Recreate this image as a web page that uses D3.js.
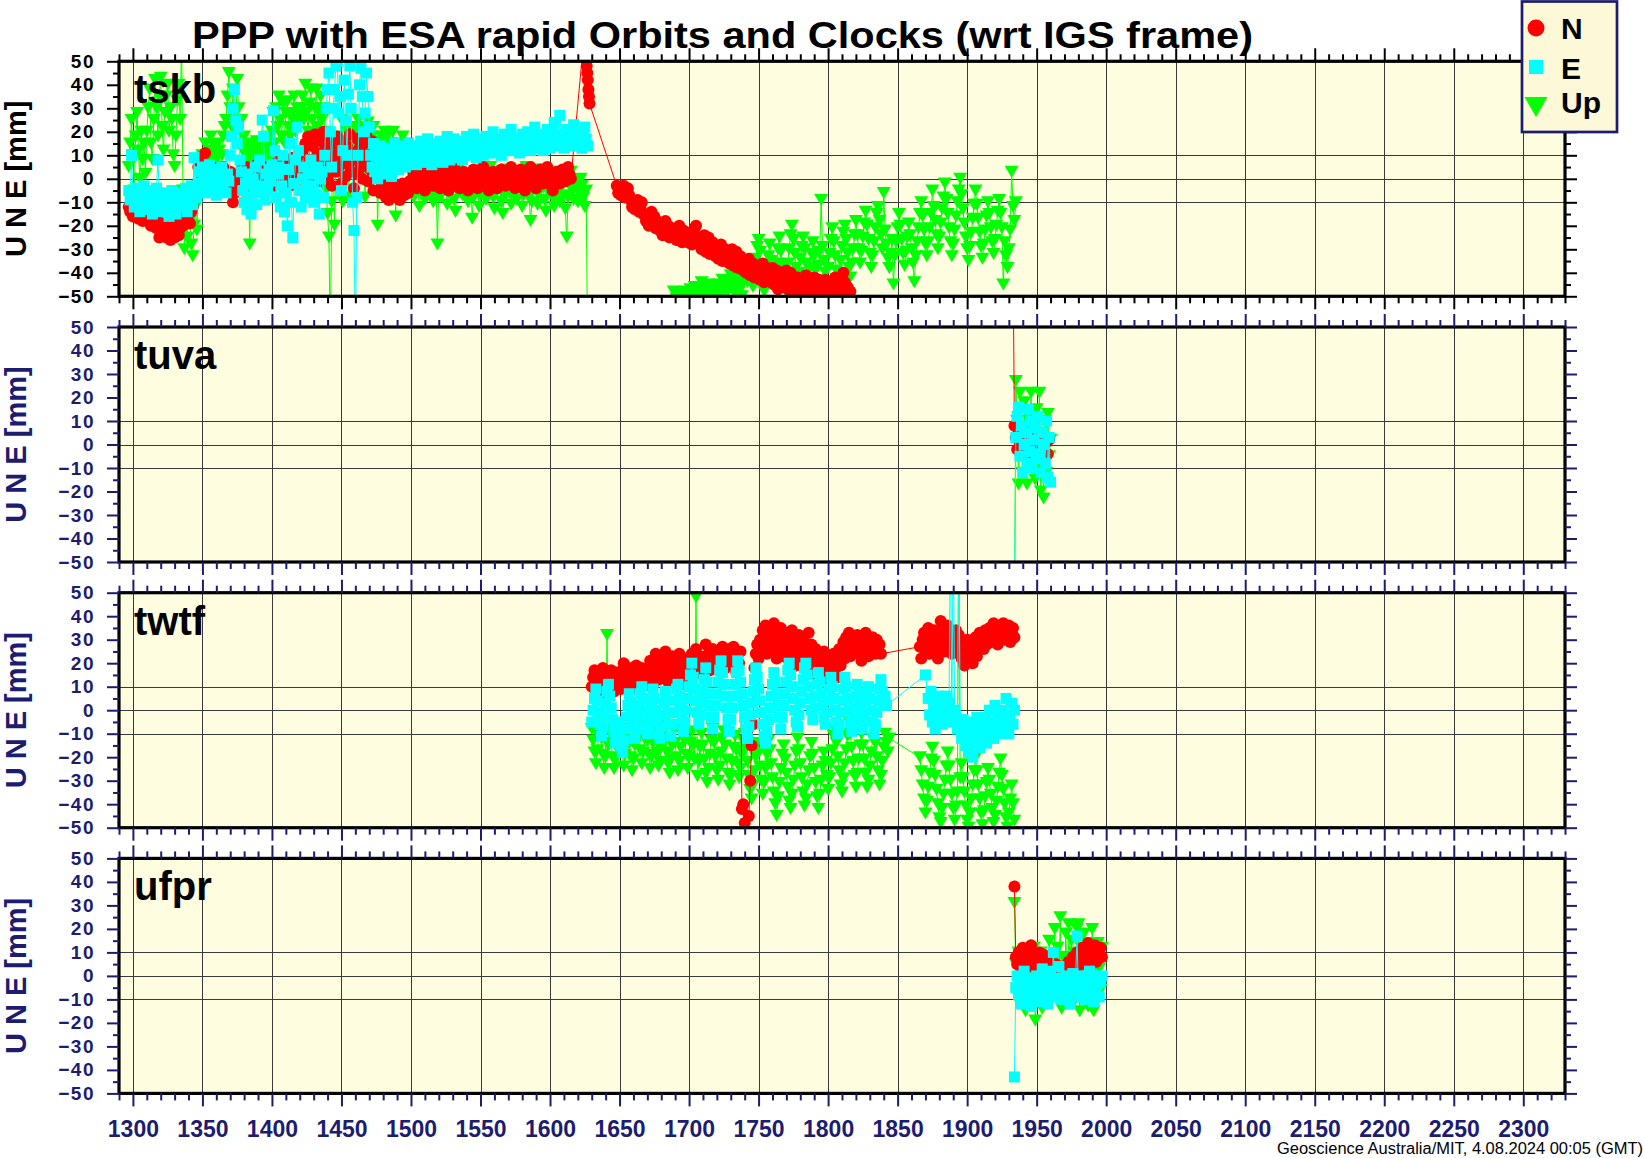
<!DOCTYPE html>
<html><head><meta charset="utf-8">
<script src="https://cdn.jsdelivr.net/npm/d3@7"></script>
<style>
body{margin:0;background:#fff}
svg{display:block}
text{font-family:"Liberation Sans",Arial,Helvetica,sans-serif}
</style>
</head><body>
<svg id="c" width="1644" height="1158"></svg>
<script>
// ---------------- DATA ----------------
// Each series is a list of segments: [startWeek, weekStep, values(mm)]
const stations = ["tskb", "tuva", "twtf", "ufpr"];
const seriesNames = ["N", "E", "Up"];
const xMajorTicks = [1300,1350,1400,1450,1500,1550,1600,1650,1700,1750,1800,1850,1900,1950,2000,2050,2100,2150,2200,2250,2300];
const yMajorTicks = [50,40,30,20,10,0,-10,-20,-30,-40,-50];
const gridValuesY = [10,0,-10];
const title = "PPP with ESA rapid Orbits and Clocks (wrt IGS frame)";
const footer = "Geoscience Australia/MIT, 4.08.2024 00:05 (GMT)";
const yTitle = "U N E [mm]";

const tskbN = [
  [1297, 1, [-12,-14,-11,-16,-13,-15,-10,-17,-14,-12,-18,-15,-13,
    -16,-18,-15,-20,-17,-19,-16,-21,-18,-25,
    -20,-23,-19,-22,-25,-21,-24,-26,-22,-20,-25,-23,-19,-24,-21,
    -18,-20,-16,-19,-17,-15,-19,-14,-12,-9,-6,
    -2,5,8,2,-3,4,11,6,0,3,-1,5,2,-2,
    3,0,-2,4,1,5,-1,2,-4,0,3,-2,-10,-6,-3,0,
    2,-3,4,-5,1,-2,5,0,-4,3,-6,2,-1,6,-3,1,4,-2,0,5,-4,2,-1,3,
    4,0,-3,6,2,8,-2,1,5,-4,3,7,0,-3,4,9,2,-1,6,10,3,
    5,12,0,15,3,18,8,-2,14,6,19,2,11,-1,16,9,20,4,13,0,17,7,-3,15,10,3,18,5,12,-2,
    9,16,1,14,6,19,3,11,-4,8,17,2,13,5,0,15,7,18,-1,10,4,16,-5,9,13,1,8,-6,-3,
    -6,-3,-8,-5,-9,-4,-7,-2,-6,-8,-3,-5,-9,-4,-2,-7,-5,-3,-6,-1,
    -2,0,2,-1,-4,-2,1,3,0,-3, -5,-2,1,4,2,-1,-3,0,3,1,
    -2,-4,-1,2,4,1,-2,-5,-3,0, 2,5,3,0,-2,-4,-1,1,3,0,
    -3,-5,-2,1,3,4,1,-1,-4,-2, 0,2,5,2,-1,-3,-5,-2,1,3,
    0,-2,-4,-1,2,4,3,0,-3,-1, 1,3,5,2,-1,-4,-2,0,2,4,
    1,-2,-5,-3,0,3,5,2,-1,-3, -4,-1,2,4,1,-2,0,3,5,2,
    -1,-3,-5,-2,1,3,0,-2,2,4, 1,-1,3,5,2,0]],
  [1626, 0.4, [70,48,45,42,38,35,32]],
  [1648, 1, [-3,-6,-4,-7,-5,-3,-8,-6,-4,-7, -9,-12,-10,-13,-11,-9,-14,-12,-10,-15,
    -15,-18,-16,-20,-17,-14,-19,-16,-21,-18, -20,-22,-19,-24,-21,-18,-23,-20,-25,-22,
    -22,-25,-21,-26,-23,-20,-24,-27,-22,-25, -24,-27,-23,-26,-28,-24,-21,-20,-27,-25,
    -26,-30,-27,-24,-31,-28,-25,-32,-29,-27, -30,-33,-29,-34,-31,-28,-35,-32,-30,-33,
    -32,-36,-33,-30,-37,-34,-31,-38,-35,-33, -36,-39,-35,-40,-37,-34,-41,-38,-36,-42,
    -38,-41,-37,-43,-39,-36,-44,-40,-38,-42, -40,-44,-38,-45,-41,-39,-47,-42,-40,-46,
    -41,-45,-39,-47,-43,-40,-48,-44,-42,-46, -42,-47,-44,-50,-43,-46,-41,-49,-45,-48,
    -44,-48,-42,-51,-46,-43,-49,-45,-52,-47, -43,-48,-45,-52,-44,-47,-50,-42,-49,-46,
    -45,-49,-47,-40,-44,-50,-46,-53,-48]]
];
const tskbE = [
  [1297, 1, [-5,-9,10,-7,-12,-8,-4,-11,-14,-6,-9,-3,-10,
    -13,-7,-5,-10,-15,-8,-12,-4,8,-6,
    -9,-14,-11,-6,-8,-13,-16,-10,-5,-12,-9,-15,-7,-11,-8,
    -12,-6,-9,-4,-14,-10,-7,-3,-11,9,-5,-8,
    -2,3,-4,5,0,-6,2,-3,6,1,-5,-1,4,-7,0,3,-2,5,-4,1,-6,2,-1,
    10,18,30,38,25,15,22,8,3,
    -5,-10,-2,-13,2,-8,-15,0,-4,5,-11,-6,8,-3,25,18,-9,2,-5,4,-1,
    6,29,12,-8,2,5,-12,-3,10,-14,-6,-20,4,15,-10,-25,-2,8,22,12,-5,-12,0,5,-8,-3,
    -6,2,8,-3,-10,4,-7,5,-15,0,3,-8,10,
    30,38,45,20,5,30,38,48,50,28,35,-5,12,42,25,10,36,48,30,-10,-22,-70,-8,10,40,47,35,20,28,45,35,22,
    10,5,15,3,12,0,8,14,6,2,11,9,5,13,3,1,10,15,7,11,4,6,13,9,14,5,10,15,8,
    8,11,14,10,6,9,13,16,12,7, 10,14,17,13,8,6,11,15,12,9,
    13,16,11,7,10,14,18,12,8,11, 15,17,12,9,13,16,11,8,12,15,
    18,14,10,12,16,19,13,9,11,14, 17,13,10,15,18,14,11,13,16,20,
    15,11,14,17,13,10,16,19,14,12, 15,18,21,16,12,14,17,13,11,15,
    19,16,13,17,20,15,12,14,18,22, 17,13,16,19,14,12,15,18,21,16,
    13,17,20,24,18,14,16,27,19,15, 13,17,21,18,14,16,20,23,18,14,
    17,20,15,13,18,22,17,14]]
];
const tskbUp = [
  [1297, 1, [5,15,25,10,-5,18,28,12,0,20,8,15,2,
    20,30,38,15,8,25,42,30,18,35,43,22,12,28,35,40,20,30,25,10,5,18,33,40,25,
    60,-5,-30,-15,-25,-10,-18,-28,-33,-20,-12,-22,-5,2,8,
    10,5,15,8,2,12,18,10,6,14,9,15,12,5,10,18,22,
    25,35,45,30,22,38,28,20,42,30,15,25,12,18,
    10,15,8,-28,12,5,14,9,16,11,6,13,10,15,8,12,18,14,10,
    20,28,15,30,22,35,25,18,32,15,28,33,22,18,28,25,35,20,30,24,28,
    30,35,25,40,28,20,32,38,25,15,30,38,22,28,35,25,30,20,-5,
    -15,-25,-70,-10,10,-20,5,18,-5,12,25,-10,8,15,20,-8,5,12,18,10,22,
    20,25,15,22,18,12,-8,20,24,15,12,18,22,10,16,-20,12,15,18,
    15,20,10,18,12,-8,15,20,12,-16,8,5,15,10,18,12,8,15,10,5,
    2,-5,-8,0,5,-3,-12,-6,1,-2, -9,-4,3,6,-1,-7,-10,-3,2,-28,
    -2,-8,-5,1,4,-3,-11,-6,0,3, -4,-9,-14,-5,2,5,-1,-7,-3,1,
    -6,-10,-3,2,-17,-8,-2,3,-5,-12, -7,0,4,-3,-9,-4,1,5,-2,-8,
    -13,-6,-1,3,-4,-10,-15,-7,0,4, -2,-6,-11,-3,2,-5,-9,-1,3,-4,
    -12,-7,0,5,-3,-8,-18,-10,-2,3, -5,-11,-6,1,4,-3,-9,-14,-5,0,
    3,-2,-8,-12,-4,1,-6,-10,-3,2, -7,-13,-25,-8,-2,3,-5,-9,-1,-4,
    -10,-6,0,-3,-8,-12,-5,-70]],
  [1640, 10, [-62,-58,-65,-60,-56]],
  [1686, 1, [-55,-52,-60,-48,-54,-51,-57,-49,-53,-50,-56,-52,-48,-55,
    -50,-47,-53,-49,-46,-52,-48,-55,-50,-44,-49,-53,-47,-51,-45,-50,-54,-48,-46,-52,
    -49,-45,-51,-47,-43,-50,-46,-53,-48,-44,-41,-47,-52,-45,-49,-43,-48,-46,-50,-44,
    -42,-38,-44,-40,-35,-41,-46,-40,-34,-29, -26,-31,-37,-43,-48,-44,-38,-33,-28,-35,
    -40,-45,-41,-36,-30,-25,-31,-37,-43,-47, -42,-36,-30,-24,-20,-26,-32,-38,-44,-40,
    -34,-29,-25,-30,-36,-42,-44,-38,-32,-27, -33,-39,-43,-37,-31,-9,-29,-35,-40,-44,
    -38,-32,-26,-21,-27,-33,-39,-45,-41,-35, -29,-23,-20,-26,-32,-38,-42,-36,-30,-24,
    -18,-24,-30,-36,-31,-25,-19,-14,-20,-26, -32,-38,-33,-27,-21,-15,-12,-18,-24,-30,
    -6,-22,-28,-34,-38,-32,-26,-45,-33,-27, -21,-15,-20,-26,-32,-37,-31,-25,-19,-24,
    -30,-36,-44,-33,-27,-21,-15,-10,-16,-22, -28,-33,-27,-21,-15,-5,-12,-18,-24,-30,
    -25,-19,-13,-8,-2,-9,-15,-21,-27,-33, -28,-22,-16,-10,-5,0,-7,-13,-19,-25,
    -30,-35,-29,-23,-17,-11,-5,-11,-17,-23, -29,-34,-28,-22,-16,-10,-15,-21,-27,-32,
    -26,-20,-14,-9,-15,-21,-45,-27,-33,-38, -30,-22,3,-12,-18,-10]]
];

const tuvaN = [[1933, 1, [80]], [1934, 1, [8,3,-2,5,0,-4,2,6,-1,3,-5,1,4,-2,0,5,-3,2,-1,4,0,-2,3,1,-4,2]]];
const tuvaE = [[1934, 1, [-80]], [1935, 1, [3,12,16,-5,8,-12,0,5,-8,15,-3,10,-10,2,7,-6,12,-4,-12,5,0,-8,10,-14,3,-16]]];
const tuvaUp = [[1934, 1, [-80]], [1935, 1, [27,10,-17,22,5,-12,18,-5,-17,12,3,22,-10,8,-15,15,-8,22,-20,5,-23,10,-12,13,-5,2]]];

const twtfN = [
  [1630, 1, [10,14,17,8,12,16,9,13,18,11, 7,13,15,10,17,12,8,14,16,11,
    13,9,17,20,12,15,10,18,14,11, 16,12,19,9,15,13,18,10,16,14,
    12,18,21,15,11,19,24,16,13,20, 17,22,14,25,18,12,20,16,23,15,
    19,13,21,24,16,11,18,22,15,20, 14,19,24,17,21,26,16,20,23,18,
    15,22,28,19,24,17,21,26,18,20, 23,17,25,20,27,22,18,24,21,26,
    19,23,27,21,16,24,20,25, -42,-40,-48,-52,-56,-45,-30,-15,-6, 18,24,28,
    22,30,25,34,28,36,24,31,27,33, 25,37,29,22,32,26,35,28,23,30,
    26,33,21,29,34,24,30,19,27,32, 25,22,31,27,18,24,33,20,28,23,
    17,26,21,14,23,19,16,25,12,20, 15,22,18,13,24,17,21,14,26,19,
    24,29,22,31,26,33,23,28,30,25, 27,32,24,29,21,30,26,33,28,23,
    29,25,31,27,24,30,26,28,24]],
  [1866, 1, [27,22,30,33,25,29,35,24,31,28, 34,26,30,22,32,38,28,35,25,31,
    36,27,33,24,30,28,34,26,32,29, 22,27,19,25,30,21,28,24,20,26,
    31,23,29,33,27,32,26,34,28,31, 35,29,33,37,30,34,28,36,31,33,
    37,30,34,32,36,29,33,35,31]]
];
const twtfE = [
  [1630, 1, [-5,0,5,9,4,-1,-6,-11,-7,-2, 3,8,11,6,1,-4,-9,-14,-10,-5,
    -10,-15,-18,-13,-8,-3,2,7,3,-2, -7,-12,-8,-3,2,7,10,5,0,-5,
    -10,-6,-1,4,9,5,0,-5,-10,-12, -7,-2,3,8,4,-1,-6,-11,-6,-1,
    4,9,11,6,1,-4,-9,-5,0,5, 10,15,20,14,9,4,-1,-6,-2,3,
    8,13,18,12,7,2,-3,-8,-3,2, 7,12,17,21,16,11,6,1,-4,-9,
    -4,1,6,11,16,21,17,12,7,2, -3,-8,-12,-7,-2,3,8,13,18,14,
    9,4,-1,-6,-11,-14,-9,-4,1,6, 11,16,12,7,2,-3,-8,-3,2,7,
    12,17,20,15,10,5,0,-5,-7,-2, 3,8,13,18,20,15,10,5,0,-4,
    1,6,11,16,12,7,2,-3,-6,-1, 4,9,14,10,5,0,-5,-10,-6,-1,
    4,9,14,10,5,0,-5,-9,-4,1, 6,11,7,2,-3,-8,-4,1,6,10,
    5,0,-5,-10,-6,-1,4,9,13,8, 3,6,2]],
  [1870, 1, [15]],
  [1872, 1, [5,-2,8,-5,2,-8,0,6,-3,4, -6,1,-4,6,-2,3,80,-5,80,0,
    -3,-8,80,-6,-12,-4,-10,-15,-7,-18, -5,-12,-20,-8,-14,-3,-10,-16,-6,-12,
    -9,-3,-14,-7,0,-10,-5,-12,2,-8, -3,-10,-6,0,-8,-2,5,-5,-10,-2, 3,-6,0]]
];
const twtfUp = [
  [1630, 1, [-8,-13,-18,-23,-17,-11,-6,-12,-19,-25, -20,32,-15,-9,-14,-20,-25,-21,-16,-10,
    -6,-12,-18,-24,-19,-13,-8,-14,-20,-26, -21,-15,-9,-5,-11,-17,-23,-18,-12,-7,
    -13,-19,-25,-20,-14,-8,-12,-18,-24,-22, -16,-10,-6,-12,-18,-23,-27,-21,-15,-9,
    -14,-20,-26,-22,-16,-10,-7,-13,-19,-25, -20,-14,-9,-15,-21,48,-28,-22,-16,-10,
    -15,-21,-27,-31,-25,-19,-13,-8,-14,-20, -26,-30,-24,-18,-12,-9,-15,-21,-27,-32,
    -28,-22,-16,-11,-17,-23,-29,-25,-19,-13, -10,-16,-22,-28,-34,-38,-32,-26,-20,-14,
    -18,-24,-30,-36,-31,-25,-19,-13,-17,-23, -29,-35,-40,-45,-37,-31,-25,-19,-15,-21,
    -27,-33,-39,-42,-36,-30,-24,-18,-12,-17, -23,-29,-35,-41,-38,-32,-26,-20,-14,-19,
    -25,-31,-37,-42,-36,-30,-24,-18,-22,-28, -34,-29,-23,-17,-11,-8,-14,-20,-26,-32,
    -35,-29,-23,-17,-11,-5,-10,-16,-22,-28, -33,-27,-21,-15,-10,-15,-21,-27,-33,-30,
    -24,-18,-12,-8,-14,-20,-26,-32,-28,-22, -16,-10,-14,-18,-12]],
  [1866, 1, [-20,-26,-32,-38,-44,-39,-33,-27,-21,-16, -22,-28,-34,-40,-46,-48,-42,-36,-30,-24,
    -18,-24,-30,-36,-42,-47,-41,-35,80,-29, -23,-29,-35,-41,-47,-50,-44,-38,-32,-26,
    -20,-26,-32,-38,-44,-49,-43,-37,-31,-25, -30,-36,-42,-48,-45,-39,-33,-27,-21,-28,
    -34,-40,-46,-50,-44,-38,-32,-40,-47]]
];

const ufprN = [[1934, 1, [38]], [1935, 1, [8,5,10,7,3,12,6,9,4,11, 7,13,5,9,3,8,6,10,4,7,
  9,5,2,6,3,0,4,-1,2,5, 1,-2,3,0,4,2,-1,3,6,2, 5,8,3,7,10,4,9,6,12,8,
  5,11,14,9,7,12,10,13,6,11, 9,12,8]]];
const ufprE = [[1934, 1, [-43]], [1935, 1, [-5,0,-8,-3,-12,-6,2,-10,-4,-1, -7,-13,-2,-5,-9,0,-4,-11,-6,3,
  -3,-8,0,-12,-5,2,-7,10,-3,-9, -1,4,-6,-10,-2,-5,0,-8,-3,-12, -4,1,-7,-2,17,-5,-9,0,-6,-3,
  -10,-1,-5,2,-8,-4,-11,0,-6,-2, -9,-3,0]]];
const ufprUp = [[1934, 1, [31]], [1935, 1, [5,-8,10,-12,2,-5,8,-15,0,-10, 6,-3,-12,12,-19,-6,4,-9,10,-14,
  2,-8,8,-12,15,-5,-10,6,20,-8, 12,-3,25,-14,8,-6,18,-10,22,-5, 15,-12,10,-8,20,22,-15,12,-6,18,
  -10,14,-13,8,-5,20,-15,10,-8,14, 3,-6,12]]];

// ---------------- DRAWING ----------------
const NAVY = "#1c1c70";
const BG = "#fefde0";
const COLORS = {N: "#ff0000", E: "#00ffff", Up: "#00ff00"};
const svg = d3.select("#c");
const x = d3.scaleLinear().domain([1290, 2330]).range([119, 1565]);
const panelTop0 = 61.3, panelH = 235, panelGap = 30.7;

function expand(segs) {
  const out = [];
  segs.forEach(([s, st, vals]) => vals.forEach((v, i) => out.push({w: s + i * st, v})));
  return out;
}

const panels = [
  {name: stations[0], N: tskbN, E: tskbE, Up: tskbUp},
  {name: stations[1], N: tuvaN, E: tuvaE, Up: tuvaUp},
  {name: stations[2], N: twtfN, E: twtfE, Up: twtfUp},
  {name: stations[3], N: ufprN, E: ufprE, Up: ufprUp}
];

const xMinor = d3.range(1290, 2331, 10).filter(v => v % 50 !== 0);
const yMinor = d3.range(-45, 50, 10);
const triPath = "M-7,-6L7,-6L0,6Z";

function drawMarkers(g, data, key, y) {
  const col = COLORS[key];
  g.append("path").datum(data)
    .attr("d", d3.line().x(d => x(d.w)).y(d => y(d.v)))
    .attr("fill", "none").attr("stroke", col).attr("stroke-width", 1);
  if (key === "N") {
    g.selectAll(null).data(data).join("circle")
      .attr("cx", d => x(d.w)).attr("cy", d => y(d.v)).attr("r", 6).attr("fill", col);
  } else if (key === "E") {
    g.selectAll(null).data(data).join("rect")
      .attr("x", d => x(d.w) - 5.5).attr("y", d => y(d.v) - 5.5)
      .attr("width", 11).attr("height", 11).attr("fill", col);
  } else {
    g.selectAll(null).data(data).join("path")
      .attr("transform", d => `translate(${x(d.w)},${y(d.v)})`)
      .attr("d", triPath).attr("fill", col);
  }
}

// title
svg.append("text").attr("x", 192).attr("y", 47.5)
  .attr("font-size", 36).attr("font-weight", "bold").attr("fill", "#000")
  .attr("textLength", 1061).attr("lengthAdjust", "spacingAndGlyphs")
  .text(title);

panels.forEach((p, i) => {
  const top = panelTop0 + i * (panelH + panelGap), bot = top + panelH;
  const y = d3.scaleLinear().domain([-50, 50]).range([bot, top]);
  const col = i === 0 ? "#000" : NAVY;
  const [x0, x1] = x.range();
  const g = svg.append("g");
  g.append("rect").attr("x", x0).attr("y", top).attr("width", x1 - x0).attr("height", panelH).attr("fill", BG);
  // grid
  g.selectAll(null).data(xMajorTicks).join("line")
    .attr("x1", d => Math.round(x(d)) + 0.5).attr("x2", d => Math.round(x(d)) + 0.5)
    .attr("y1", top).attr("y2", bot).attr("stroke", "#3a3a3a").attr("stroke-width", 1);
  g.selectAll(null).data(gridValuesY).join("line")
    .attr("x1", x0).attr("x2", x1)
    .attr("y1", d => Math.round(y(d)) + 0.5).attr("y2", d => Math.round(y(d)) + 0.5)
    .attr("stroke", "#3a3a3a").attr("stroke-width", 1);
  // data
  const cid = "clip" + i;
  svg.append("clipPath").attr("id", cid).append("rect")
    .attr("x", x0).attr("y", top).attr("width", x1 - x0).attr("height", panelH);
  const dg = g.append("g").attr("clip-path", `url(#${cid})`);
  drawMarkers(dg.append("g"), expand(p.Up), "Up", y);
  drawMarkers(dg.append("g"), expand(p.N), "N", y);
  drawMarkers(dg.append("g"), expand(p.E), "E", y);
  // frame
  g.append("rect").attr("x", x0).attr("y", top).attr("width", x1 - x0).attr("height", panelH)
    .attr("fill", "none").attr("stroke", "#000").attr("stroke-width", 3.2);

  function styleAxis(sel) {
    sel.select(".domain").remove();
    sel.selectAll(".tick line").attr("stroke", col).attr("stroke-width", 2);
    sel.selectAll("text").attr("fill", col).attr("font-weight", "bold");
  }
  // left
  g.append("g").attr("transform", `translate(${x0},0)`)
    .call(d3.axisLeft(y).tickValues(yMajorTicks).tickSize(12).tickPadding(12).tickFormat(d3.format("d")))
    .call(styleAxis)
    .call(s => s.selectAll("text").attr("font-size", 19).attr("font-family", '"Liberation Sans",Arial,sans-serif').style("letter-spacing", "1.5px"));
  g.append("g").attr("transform", `translate(${x0},0)`)
    .call(d3.axisLeft(y).tickValues(yMinor).tickSize(6).tickFormat("")).call(styleAxis);
  // right
  g.append("g").attr("transform", `translate(${x1},0)`)
    .call(d3.axisRight(y).tickValues(yMajorTicks).tickSize(12).tickFormat("")).call(styleAxis);
  g.append("g").attr("transform", `translate(${x1},0)`)
    .call(d3.axisRight(y).tickValues(yMinor).tickSize(6).tickFormat("")).call(styleAxis);
  // top
  g.append("g").attr("transform", `translate(0,${top})`)
    .call(d3.axisTop(x).tickValues(xMajorTicks).tickSize(13).tickFormat("")).call(styleAxis);
  g.append("g").attr("transform", `translate(0,${top})`)
    .call(d3.axisTop(x).tickValues(xMinor).tickSize(7).tickFormat("")).call(styleAxis);
  // bottom
  const bAx = g.append("g").attr("transform", `translate(0,${bot})`)
    .call(d3.axisBottom(x).tickValues(xMajorTicks).tickSize(13).tickPadding(14)
      .tickFormat(i === panels.length - 1 ? d3.format("d") : ""))
    .call(styleAxis);
  bAx.selectAll("text").attr("font-size", 23).attr("font-family", '"Liberation Sans",Arial,sans-serif');
  g.append("g").attr("transform", `translate(0,${bot})`)
    .call(d3.axisBottom(x).tickValues(xMinor).tickSize(7).tickFormat("")).call(styleAxis);

  // station label
  g.append("text").attr("x", 134).attr("y", top + 42)
    .attr("font-size", 40).attr("font-weight", "bold").attr("fill", "#000").text(p.name);
  // y title
  g.append("text").attr("transform", `translate(26,${(top + bot) / 2}) rotate(-90)`)
    .attr("text-anchor", "middle").attr("font-size", 29).attr("font-weight", "bold")
    .attr("fill", col).text(yTitle);
});

// legend
const lg = svg.append("g");
lg.append("rect").attr("x", 1522).attr("y", 1.5).attr("width", 95).attr("height", 130.5)
  .attr("fill", "#fdf8d8").attr("stroke", NAVY).attr("stroke-width", 2.7);
const legY = [28, 67, 107];
const legBase = [39, 79, 113];
lg.append("circle").attr("cx", 1536).attr("cy", legY[0]).attr("r", 8.5).attr("fill", COLORS.N);
lg.append("rect").attr("x", 1529).attr("y", legY[1] - 7).attr("width", 14).attr("height", 14).attr("fill", COLORS.E);
lg.append("path").attr("transform", `translate(1536,${legY[2]})`).attr("d", "M-11.5,-10L11.5,-10L0,10Z").attr("fill", COLORS.Up);
seriesNames.forEach((s, k) => {
  lg.append("text").attr("x", 1561).attr("y", legBase[k]).attr("font-size", 30)
    .attr("font-weight", "bold").attr("fill", "#000").text(s);
});

// footer
svg.append("text").attr("x", 1277).attr("y", 1154.3).attr("font-size", 16)
  .attr("fill", "#000").attr("textLength", 366).attr("lengthAdjust", "spacingAndGlyphs").text(footer);
</script>
</body></html>
